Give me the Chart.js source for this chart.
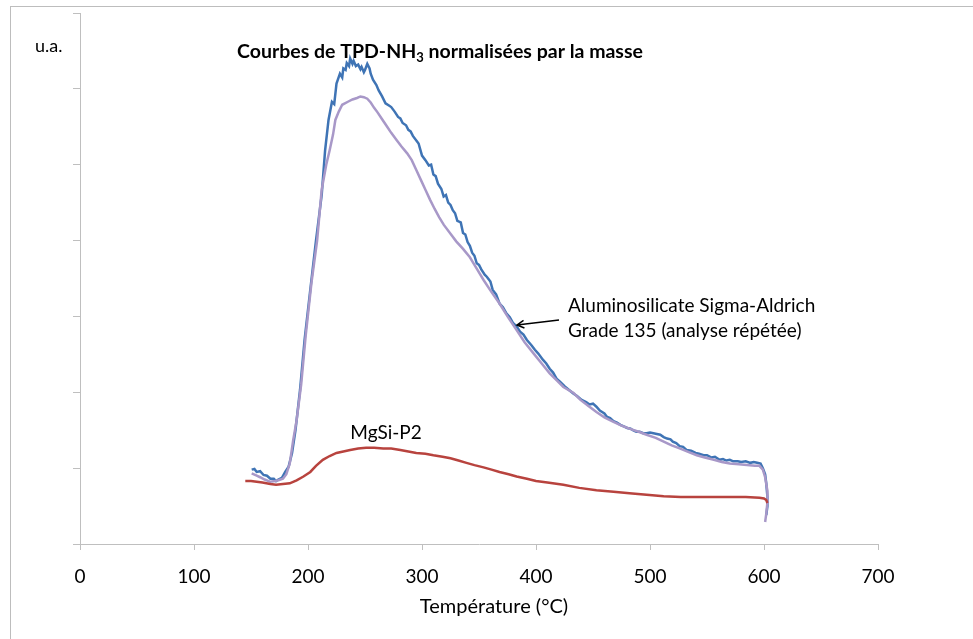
<!DOCTYPE html>
<html><head><meta charset="utf-8">
<script src="https://cdn.jsdelivr.net/npm/chart.js@4.4.0/dist/chart.umd.min.js"></script>
<style>html,body{margin:0;padding:0;background:#fff;overflow:hidden}canvas{display:block}</style>
</head><body><canvas id="c" width="973" height="639"></canvas>
<script>
// ---- Data (temperature °C, signal u.a.) ----
const alum1Temp = [150.6,153,155,158,161,164,167,170,172,174,177,180,183,186,189,193,197,202,207,212,215,218,221,223,225,228,230,231,233,234,236,237,239,240,242,244,246,247,249,250,252,254,255,257,260,262,265,268,271,273,276,279,281,283,286,288,290,292,295,297,300,303,306,308,310,312,314,317,319,321,323,325,327,329,331,334,336,338,340,342,344,346,348,350,352,355,357,360,362,365,368,371,374,377,380,383,386,389,392,396,399,402,406,409,412,415,418,421,425,429,433,436,440,444,447,450,453,456,458,460,462,465,468,471,474,477,480,483,485,488,491,494,497,500,503,506,509,512,515,518,520,523,526,529,532,536,540,543,547,550,554,557,561,564,567,570,573,577,580,584,588,591,594,597,599,601,602,603,603,602,600];
const alum1Val  = [0.98,0.99,0.95,0.96,0.91,0.90,0.86,0.86,0.83,0.85,0.87,0.95,1.02,1.20,1.50,2.03,2.69,3.35,4.00,4.60,5.19,5.59,5.83,5.80,6.07,6.20,6.15,6.27,6.25,6.34,6.30,6.40,6.33,6.37,6.30,6.32,6.26,6.29,6.22,6.25,6.33,6.27,6.20,6.12,6.05,5.98,5.90,5.81,5.78,5.76,5.70,5.63,5.61,5.55,5.52,5.46,5.44,5.38,5.32,5.28,5.12,5.06,4.99,5.00,4.87,4.85,4.75,4.68,4.58,4.60,4.50,4.47,4.40,4.36,4.26,4.24,4.10,4.08,3.98,3.93,3.84,3.80,3.70,3.68,3.62,3.55,3.52,3.46,3.35,3.29,3.17,3.12,3.04,2.99,2.91,2.87,2.80,2.76,2.69,2.62,2.56,2.51,2.43,2.38,2.31,2.26,2.18,2.14,2.08,2.03,1.98,1.95,1.90,1.87,1.84,1.85,1.81,1.76,1.74,1.72,1.68,1.66,1.62,1.60,1.57,1.55,1.53,1.52,1.50,1.48,1.48,1.46,1.46,1.47,1.46,1.45,1.44,1.41,1.39,1.38,1.35,1.33,1.29,1.28,1.24,1.23,1.20,1.19,1.17,1.17,1.14,1.15,1.11,1.12,1.10,1.11,1.09,1.09,1.08,1.09,1.07,1.08,1.07,1.06,1.00,0.92,0.80,0.62,0.50,0.38];

const alum2Temp = [150.6,155,158,162,167,171,174,178,181,184,187,190,194,198,203,208,212,216,219,222,224,227,230,235,239,243,246,249,252,255,258,261,265,269,273,278,282,287,291,295,299,303,307,311,315,319,325,330,336,342,348,354,361,368,375,383,390,398,405,412,418,424,433,439,446,453,460,468,475,482,490,497,505,512,519,526,534,541,548,556,563,570,578,585,592,596,599,601,603,603,602,601];
const alum2Val  = [0.93,0.90,0.88,0.85,0.82,0.83,0.84,0.86,0.92,1.06,1.37,1.63,2.10,2.75,3.44,4.00,4.67,5.00,5.19,5.40,5.59,5.70,5.79,5.83,5.86,5.88,5.90,5.89,5.87,5.82,5.75,5.69,5.60,5.51,5.42,5.32,5.24,5.15,5.06,4.93,4.80,4.67,4.54,4.42,4.31,4.21,4.09,3.99,3.89,3.78,3.63,3.48,3.32,3.17,3.00,2.82,2.66,2.51,2.38,2.25,2.16,2.07,1.99,1.90,1.82,1.74,1.67,1.61,1.56,1.52,1.48,1.44,1.40,1.35,1.30,1.26,1.21,1.17,1.14,1.11,1.08,1.06,1.05,1.04,1.03,1.03,0.98,0.88,0.70,0.55,0.40,0.29];

const mgsiTemp = [145,150,155,160,167,172,178,184,190,196,202,207,213,219,225,231,237,244,251,258,266,273,281,288,295,303,310,318,325,332,339,346,354,361,368,376,383,392,400,410,424,438,453,468,482,497,512,527,541,556,570,584,596,600,602,603];
const mgsiVal  = [0.83,0.83,0.82,0.81,0.79,0.78,0.79,0.80,0.84,0.89,0.95,1.03,1.11,1.16,1.20,1.22,1.24,1.26,1.27,1.27,1.26,1.26,1.24,1.22,1.20,1.19,1.17,1.15,1.13,1.10,1.07,1.04,1.01,0.98,0.95,0.92,0.89,0.86,0.83,0.81,0.78,0.74,0.71,0.69,0.67,0.65,0.63,0.62,0.62,0.62,0.62,0.62,0.61,0.60,0.58,0.54];

const xTicks = [0,100,200,300,400,500,600,700];
const yTicks = [0,1,2,3,4,5,6,7];
const xAxisTitle = 'Température (°C)';

const toXY = (t, v) => t.map((x, i) => ({x: x, y: v[i]}));

const FONT = 'Lato, "Open Sans", sans-serif';

const annotPlugin = {
  id: 'annot',
  beforeDraw(chart) {
    const ctx = chart.ctx;
    ctx.save();
    ctx.fillStyle = '#fff';
    ctx.fillRect(0, 0, chart.width, chart.height);
    ctx.strokeStyle = '#bdbdbd';
    ctx.lineWidth = 1;
    ctx.strokeRect(10.5, 6.5, 1100, 800);
    ctx.restore();
  },
  afterDraw(chart) {
    const ctx = chart.ctx;
    const area = chart.chartArea;
    ctx.save();
    ctx.fillStyle = '#000';
    ctx.textBaseline = 'alphabetic';
    // u.a.
    ctx.font = '18px ' + FONT;
    ctx.textAlign = 'left';
    ctx.fillText('u.a.', 35, 52);
    // Title with subscript
    const p1 = 'Courbes de TPD-NH', sub = '3', p2 = ' normalisées par la masse';
    const big = 'bold 19.5px ' + FONT, small = 'bold 13px ' + FONT;
    ctx.font = big;
    const w1 = ctx.measureText(p1).width, w3 = ctx.measureText(p2).width;
    ctx.font = small;
    const w2 = ctx.measureText(sub).width;
    const total = w1 + w2 + w3;
    const tx = 440 - total / 2;
    const ty = 58;
    ctx.font = big;
    ctx.fillText(p1, tx, ty);
    ctx.font = small;
    ctx.fillText(sub, tx + w1, ty + 4);
    ctx.font = big;
    ctx.fillText(p2, tx + w1 + w2, ty);
    // X axis title
    ctx.font = '20px ' + FONT;
    ctx.textAlign = 'center';
    ctx.textBaseline = 'middle';
    ctx.fillText(xAxisTitle, (area.left + area.right) / 2 + 15, 607);
    ctx.textBaseline = 'alphabetic';
    // Series labels
    ctx.font = '19px ' + FONT;
    ctx.textAlign = 'center';
    ctx.fillText('MgSi-P2', 386, 439);
    ctx.textAlign = 'left';
    ctx.fillText('Aluminosilicate Sigma-Aldrich', 568, 312);
    ctx.fillText('Grade 135 (analyse répétée)', 568, 337);
    // Arrow
    const ax0 = 559, ay0 = 320, ax1 = 517, ay1 = 325;
    ctx.strokeStyle = '#000';
    ctx.lineWidth = 1.5;
    ctx.beginPath();
    ctx.moveTo(ax0, ay0); ctx.lineTo(ax1, ay1);
    const ang = Math.atan2(ay1 - ay0, ax1 - ax0);
    const hl = 8;
    ctx.moveTo(ax1 - hl * Math.cos(ang - 0.5), ay1 - hl * Math.sin(ang - 0.5));
    ctx.lineTo(ax1, ay1);
    ctx.lineTo(ax1 - hl * Math.cos(ang + 0.5), ay1 - hl * Math.sin(ang + 0.5));
    ctx.stroke();
    ctx.restore();
  }
};

function build() {
  new Chart(document.getElementById('c'), {
    type: 'line',
    data: {
      datasets: [
        {label: 'MgSi-P2', data: toXY(mgsiTemp, mgsiVal), borderColor: '#b8433e', borderWidth: 2.5, pointRadius: 0, tension: 0, fill: false},
        {label: 'Aluminosilicate (2)', data: toXY(alum2Temp, alum2Val), borderColor: '#a898c8', borderWidth: 2.5, pointRadius: 0, tension: 0, fill: false},
        {label: 'Aluminosilicate (1)', data: toXY(alum1Temp, alum1Val), borderColor: '#3f74b5', borderWidth: 2.5, pointRadius: 0, tension: 0, fill: false}
      ]
    },
    options: {
      responsive: false,
      animation: false,
      devicePixelRatio: 1,
      layout: {padding: {left: 0, right: 95, top: 13, bottom: 0}},
      plugins: {legend: {display: false}, title: {display: false}, tooltip: {enabled: false}},
      scales: {
        x: {
          type: 'linear', min: 0, max: 700,
          afterBuildTicks: s => { s.ticks = xTicks.map(v => ({value: v})); },
          afterFit: s => { s.height = 95; },
          grid: {drawOnChartArea: false, drawTicks: true, tickLength: 6, color: '#bfbfbf', lineWidth: 1},
          border: {color: '#bfbfbf', width: 1},
          ticks: {font: {family: FONT, size: 19}, color: '#000', padding: 15, maxRotation: 0},
          title: {display: false, text: xAxisTitle}
        },
        y: {
          type: 'linear', min: 0, max: 7,
          afterBuildTicks: s => { s.ticks = yTicks.map(v => ({value: v})); },
          afterFit: s => { s.width = 80; },
          grid: {drawOnChartArea: false, drawTicks: true, tickLength: 7, color: '#bfbfbf', lineWidth: 1},
          border: {color: '#bfbfbf', width: 1},
          ticks: {display: false}
        }
      }
    },
    plugins: [annotPlugin]
  });
}
if (document.fonts && document.fonts.load) {
  Promise.all([document.fonts.load('17px Lato'), document.fonts.load('bold 17px Lato')]).then(build, build);
} else { build(); }
</script></body></html>
